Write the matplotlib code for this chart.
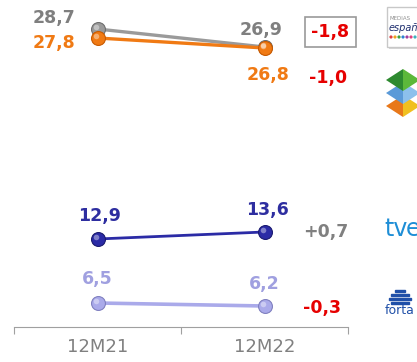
import matplotlib.pyplot as plt
from matplotlib.patches import Polygon, Rectangle, Circle
from matplotlib.transforms import offset_copy

# data
periods = ['12M21', '12M22']
top_series = {'gray': [28.7, 26.9], 'orange': [27.8, 26.8]}
bottom_series = {'blue': [12.9, 13.6], 'light': [6.5, 6.2]}

colors = {'gray': '#9a9a9a', 'orange': '#f07a14', 'blue': '#2b2ba6', 'light': '#aaaaea'}
edge = {'gray': '#6e6e6e', 'orange': '#c85a00', 'blue': '#1a1a70', 'light': '#8080c0'}
label_col = {'gray': '#7f7f7f', 'orange': '#f07a14', 'blue': '#2e2ea0', 'light': '#a0a0e0'}
widths = {'gray': 2.4, 'orange': 2.4, 'blue': 2.0, 'light': 2.6}

# label offsets in pixels (start label, end label, change label)
offs = {
    'gray': [(-43, 11), (-3, 17), (66, 15)],
    'orange': [(-43, -5), (4, -27), (64, -30)],
    'blue': [(2, 23), (3, 22), (61, 0)],
    'light': [(0, 24), (0, 22), (57, -2)],
}

W, H = 417, 362
fig = plt.figure(figsize=(W / 100, H / 100), dpi=100)

def fx(px):
    return px / W

def fy(py):
    return 1 - py / H

x0, x1 = 14, 348
ax_top = fig.add_axes([fx(x0), fy(100), fx(x1) - fx(x0), 100 / H])
ax_bot = fig.add_axes([fx(x0), fy(327), fx(x1) - fx(x0), 147 / H])
ax_top.set_ylim(21.6, 31.6)
ax_bot.set_ylim(4.1, 18.8)

def fmt(v, sign=False):
    s = f'{v:+.1f}' if sign else f'{v:.1f}'
    return s.replace('.', ',')

xs = [0, 1]
for ax, series in [(ax_top, top_series), (ax_bot, bottom_series)]:
    ax.set_xlim(-0.5, 1.5)
    shine = offset_copy(ax.transData, fig=fig, x=-2, y=2, units='dots')
    for name, vals in series.items():
        ax.plot(xs, vals, color=colors[name], lw=widths[name], marker='o', ms=10,
                mfc=colors[name], mec=edge[name], mew=0.8, zorder=3)
        ax.plot(xs, vals, ls='none', marker='o', ms=4, mfc='white', mec='none',
                alpha=0.4, zorder=4, transform=shine)
        o = offs[name]
        for i in range(2):
            ax.annotate(fmt(vals[i]), (xs[i], vals[i]), xytext=o[i],
                        textcoords='offset pixels', ha='center', va='center',
                        fontsize=12.5, fontweight='bold', color=label_col[name])
        d = round(vals[1] - vals[0], 1)
        dcol = '#e60000' if d < 0 else '#808080'
        txt = fmt(d, sign=d > 0)
        kw = {}
        if name == 'gray':
            kw['bbox'] = dict(boxstyle='square,pad=0.35', fc='white', ec='#9a9a9a', lw=1.2)
        ax.annotate(txt, (xs[1], vals[1]), xytext=o[2], textcoords='offset pixels',
                    ha='center', va='center', fontsize=12.5, fontweight='bold',
                    color=dcol, **kw)
    for s in ax.spines.values():
        s.set_visible(False)
    ax.set_yticks([])
    ax.patch.set_alpha(0)

ax_top.set_xticks([])
ax_bot.spines['bottom'].set_visible(True)
ax_bot.spines['bottom'].set_color('#a0a0a0')
ax_bot.set_xticks([-0.5, 0.5, 1.5])
ax_bot.set_xticklabels([])
ax_bot.tick_params(axis='x', which='major', direction='out', length=5, color='#a0a0a0')
ax_bot.set_xticks(xs, minor=True)
ax_bot.set_xticklabels(periods, minor=True)
ax_bot.tick_params(axis='x', which='minor', length=0, pad=8, labelsize=13, labelcolor='#808080')

# logos (approximate) in pixel coordinates
ov = fig.add_axes([0, 0, 1, 1])
ov.set_xlim(0, W)
ov.set_ylim(H, 0)
ov.axis('off')
ov.patch.set_alpha(0)

ov.add_patch(Rectangle((389, 9), 32, 40, fc='#d8d8d8', ec='none'))
ov.add_patch(Rectangle((387, 7), 32, 40, fc='white', ec='#c8c8c8', lw=1))
ov.text(390, 18, 'MEDIAS', fontsize=4, color='#909090', va='center')
ov.text(389, 28, 'españ', fontsize=7, style='italic', color='#203070', va='center')
for k, c in enumerate(['#e04040', '#f0a020', '#40a040', '#3080d0', '#a040a0', '#e04080', '#40b0c0']):
    ov.add_patch(Circle((391 + k * 4, 37), 0.9, color=c))

for cy, cl, cr in [(106, '#e8781a', '#f0c020'), (93, '#5a9ad8', '#8cc0ec'), (80, '#2e8a30', '#5cb83a')]:
    ov.add_patch(Polygon([(386, cy), (403, cy - 11), (403, cy + 11)], closed=True, fc=cl, ec='none'))
    ov.add_patch(Polygon([(403, cy - 11), (420, cy), (403, cy + 11)], closed=True, fc=cr, ec='none'))

ov.text(384, 229, 'tv', fontsize=17, color='#1e8ed6', va='center')
ov.text(406, 229, 'e', fontsize=17, color='#1e8ed6', va='center', clip_on=True)
for k, wdt in enumerate([10, 18, 22, 18]):
    ov.add_patch(Rectangle((400 - wdt / 2, 290 + k * 4), wdt, 2, color='#2050a8'))
ov.text(385, 310, 'forta', fontsize=9, color='#2050a8', va='center')

fig.savefig('out.png', dpi=100)
